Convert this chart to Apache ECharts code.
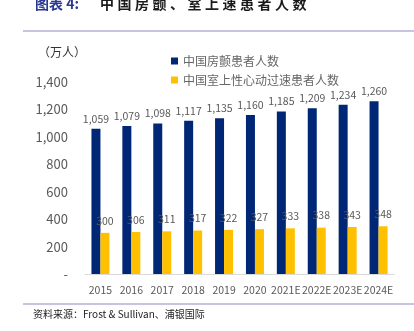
<!DOCTYPE html>
<html>
<head>
<meta charset="utf-8">
<script src="https://cdn.jsdelivr.net/npm/echarts@6/dist/echarts.min.js"></script>
<style>
  html, body { margin: 0; padding: 0; background: #fff; }
  #chart { width: 414px; height: 331px; }
</style>
</head>
<body>
<div id="chart"></div>
<script>
var categories = ["2015", "2016", "2017", "2018", "2019", "2020", "2021E", "2022E", "2023E", "2024E"];
var afData = [1059, 1079, 1098, 1117, 1135, 1160, 1185, 1209, 1234, 1260];
var svtData = [300, 306, 311, 317, 322, 327, 333, 338, 343, 348];
var seriesNames = ["中国房颤患者人数", "中国室上性心动过速患者人数"];
var titleText = "中国房颤、室上速患者人数";

var font = "'Noto Sans CJK SC', 'Liberation Sans', sans-serif";
var chart = echarts.init(document.getElementById("chart"));

// the original title is set with wide letter spacing
var spacedTitle = titleText.split("").join("\u2005");

chart.setOption({
    animation: false,
    textStyle: { fontFamily: font },
    graphic: [
        {
            type: "text",
            left: 35,
            top: -3,
            style: {
                text: "{a|图表 4:}{b|" + spacedTitle + "}",
                rich: {
                    a: { fontSize: 14, fontWeight: "bold", fill: "#2b3990", fontFamily: font, width: 65 },
                    b: { fontSize: 14, fontWeight: "bold", fill: "#1a1a1a", fontFamily: font }
                }
            }
        },
        {
            type: "line",
            shape: { x1: 23, y1: 31, x2: 414, y2: 31 },
            style: { stroke: "#8c8cc0", lineWidth: 1 }
        },
        {
            type: "line",
            shape: { x1: 23, y1: 304, x2: 414, y2: 304 },
            style: { stroke: "#8c8cc0", lineWidth: 1 }
        },
        {
            type: "text",
            left: 38,
            top: 46,
            style: { text: "（万人）", fontSize: 12, fill: "#333", fontFamily: font }
        },
        {
            type: "text",
            left: 33,
            top: 309,
            style: { text: "资料来源：Frost & Sullivan、浦银国际", fontSize: 10, fill: "#222", fontFamily: font }
        }
    ],
    legend: {
        data: seriesNames,
        orient: "vertical",
        left: 166,
        top: 50,
        itemWidth: 7,
        itemHeight: 7,
        itemGap: 7,
        icon: "rect",
        textStyle: { fontSize: 12, color: "#666" }
    },
    grid: {
        left: 85,
        right: 20,
        top: 82,
        bottom: 57
    },
    xAxis: {
        type: "category",
        data: categories,
        axisTick: { show: false },
        axisLine: { lineStyle: { color: "#d9d9d9", width: 1 } },
        axisLabel: { fontSize: 10.5, color: "#595959", margin: 11, interval: 0 }
    },
    yAxis: {
        type: "value",
        min: 0,
        max: 1400,
        interval: 200,
        splitLine: { show: false },
        axisLine: { show: false },
        axisTick: { show: false },
        axisLabel: {
            fontSize: 13,
            color: "#595959",
            margin: 17,
            formatter: function (v) {
                return v === 0 ? "-" : v.toLocaleString("en-US");
            }
        }
    },
    series: [
        {
            name: seriesNames[0],
            type: "bar",
            data: afData,
            barWidth: 9,
            barGap: "0%",
            itemStyle: { color: "#002676" },
            label: {
                show: true,
                position: "top",
                distance: 5,
                fontSize: 10.5,
                color: "#595959",
                formatter: function (p) { return p.value.toLocaleString("en-US"); }
            }
        },
        {
            name: seriesNames[1],
            type: "bar",
            data: svtData,
            barWidth: 9,
            itemStyle: { color: "#ffc000" },
            label: {
                show: true,
                position: "top",
                distance: 7,
                fontSize: 10.5,
                color: "#595959"
            }
        }
    ]
});
</script>
</body>
</html>
